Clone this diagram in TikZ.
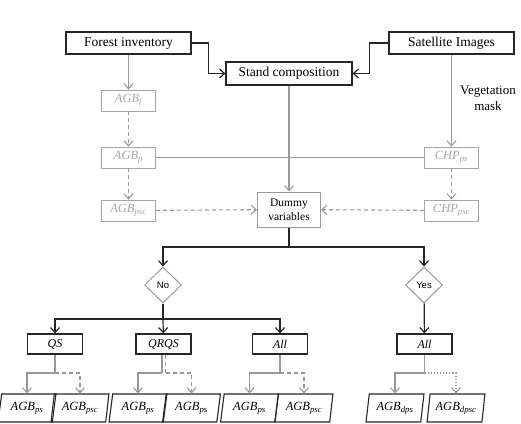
\documentclass[tikz,border=0pt]{standalone}
\usepackage{fontspec}
\setmainfont{Liberation Serif}
\newfontfamily\diafont{Liberation Sans}
\usetikzlibrary{arrows.meta,shapes.geometric}

\newcommand\agbsub[2]{\textit{#1}\textsubscript{\itshape #2}}

\tikzset{
  mainbox/.style={draw=black!85, line width=1.2pt, minimum height=22pt, inner sep=0pt,
    font=\fontsize{13.5}{15}\selectfont},
  greybox/.style={draw=black!35, line width=0.9pt, minimum width=54pt, minimum height=21pt,
    inner sep=0pt, text=black!35, font=\fontsize{12.5}{14}\selectfont},
  modelbox/.style={draw=black!85, line width=1.2pt, minimum width=55pt, minimum height=20pt,
    inner sep=0pt, font=\fontsize{12}{14}\selectfont\itshape},
  choice/.style={diamond, draw=black!40, line width=1pt, minimum width=37pt, minimum height=36pt,
    inner sep=0pt, font=\diafont\fontsize{9.5}{10}\selectfont},
  outbox/.style={trapezium, trapezium left angle=79, trapezium right angle=101,
    trapezium stretches=true, draw=black!85, line width=1.1pt, minimum width=58pt,
    minimum height=28pt, inner sep=0pt, font=\fontsize{12.5}{14}\selectfont},
  arrowtip/.style={-{Straight Barb[length=5pt,width=9pt]}},
  blkline/.style={draw=black!85, line width=1.2pt},
  gryline/.style={draw=black!40, line width=1.1pt},
  dashline/.style={dash pattern=on 4pt off 3pt},
}

\begin{document}
\begin{tikzpicture}[x=1pt, y=-1pt]
  \useasboundingbox (0,0) rectangle (521,423);

  % data sources
  \node[mainbox, minimum width=125pt] (forest) at (128.5,43) {Forest inventory};
  \node[mainbox, minimum width=125pt] (sat) at (451.5,43) {Satellite Images};
  \node[mainbox, minimum width=126pt, minimum height=23pt] (stand) at (289,73.5) {Stand composition};

  % grey column
  \node[greybox] (agbf) at (128.5,100.5) {\agbsub{AGB}{f}};
  \node[greybox] (agbp) at (128.5,157.5) {\agbsub{AGB}{p}};
  \node[greybox] (agbpsc) at (128.5,210.5) {\agbsub{AGB}{psc}};
  \node[greybox] (chpps) at (451.5,157.5) {\agbsub{CHP}{ps}};
  \node[greybox] (chppsc) at (451.5,210.5) {\agbsub{CHP}{psc}};
  \node[draw=black!40, line width=1pt, minimum width=63pt, minimum height=35pt, inner sep=0pt,
    align=center, font=\fontsize{11.5}{14}\selectfont] (dummy) at (289,209.5) {Dummy\\variables};
  \node[align=center, font=\fontsize{13}{16}\selectfont] (veg) at (488,98) {Vegetation\\mask};

  % decisions
  \node[choice] (no) at (163,285) {No};
  \node[choice] (yes) at (424,285) {Yes};
  \node[modelbox] (qs) at (55,344) {QS};
  \node[modelbox] (qrqs) at (163.5,344) {QRQS};
  \node[modelbox] (alla) at (280,344) {All};
  \node[modelbox] (allb) at (424.5,344) {All};

  % outputs
  \node[outbox] (p1) at (27,408) {\agbsub{AGB}{ps}};
  \node[outbox] (p2) at (80,408) {\agbsub{AGB}{psc}};
  \node[outbox] (p3) at (138,408) {\agbsub{AGB}{ps}};
  \node[outbox] (p4) at (191.5,408) {\agbsub{AGB}{ps}};
  \node[outbox] (p5) at (249.5,408) {\agbsub{AGB}{ps}};
  \node[outbox] (p6) at (304,408) {\agbsub{AGB}{psc}};
  \node[outbox] (p7) at (395,408) {\agbsub{AGB}{dps}};
  \node[outbox] (p8) at (456,408) {\agbsub{AGB}{dpsc}};

  \coordinate (split) at (289,247);
  \coordinate (nosplit) at (163,319);
  \coordinate (j1) at (55,373);
  \coordinate (j2) at (162,373);
  \coordinate (j2b) at (165.5,373);
  \coordinate (j3) at (280,373);
  \coordinate (j4) at (424.5,373);

  % black connectors
  \draw[blkline, arrowtip] (forest.east) -- ++(17,0) |- (stand.west);
  \draw[blkline, arrowtip] (sat.west) -- ++(-19,0) |- (stand.east);
  \draw[blkline] (dummy) -- (split);
  \draw[blkline, arrowtip] (split) -| (no);
  \draw[blkline, arrowtip] (split) -| (yes);
  \draw[blkline] (no) -- (nosplit);
  \draw[blkline, arrowtip] (nosplit) -| (qs);
  \draw[blkline, arrowtip] (nosplit) -- (qrqs);
  \draw[blkline, arrowtip] (nosplit) -| (alla);
  \draw[blkline, arrowtip] (yes) -- (allb);

  % grey connectors
  \draw[gryline, arrowtip] (forest) -- (agbf);
  \draw[gryline, arrowtip, dashline] (agbf) -- (agbp);
  \draw[gryline, arrowtip, dashline] (agbp) -- (agbpsc);
  \draw[gryline, arrowtip, dashline] (agbpsc) -- (dummy);
  \draw[gryline, arrowtip] (sat) -- (chpps);
  \draw[gryline, arrowtip, dashline] (chpps) -- (chppsc);
  \draw[gryline, arrowtip, dashline] (chppsc) -- (dummy);
  \draw[gryline, arrowtip] (stand) -- (dummy);
  \draw[gryline] (agbp) -- (chpps);

  \draw[gryline] (qs) -- (j1);
  \draw[gryline, arrowtip] (j1) -| (p1);
  \draw[gryline, arrowtip, dashline] (j1) -| (p2);
  \draw[gryline] (qrqs.south -| j2) -- (j2);
  \draw[gryline, dashline] (qrqs.south -| j2b) -- (j2b);
  \draw[gryline, arrowtip] (j2) -| (p3);
  \draw[gryline, arrowtip, dashline] (j2b) -| (p4);
  \draw[gryline] (alla) -- (j3);
  \draw[gryline, arrowtip] (j3) -| (p5);
  \draw[gryline, arrowtip, dashline] (j3) -| (p6);
  \draw[gryline] (allb) -- (j4);
  \draw[gryline, arrowtip] (j4) -| (p7);
  \draw[gryline, arrowtip, dotted] (j4) -| (p8);
\end{tikzpicture}
\end{document}
